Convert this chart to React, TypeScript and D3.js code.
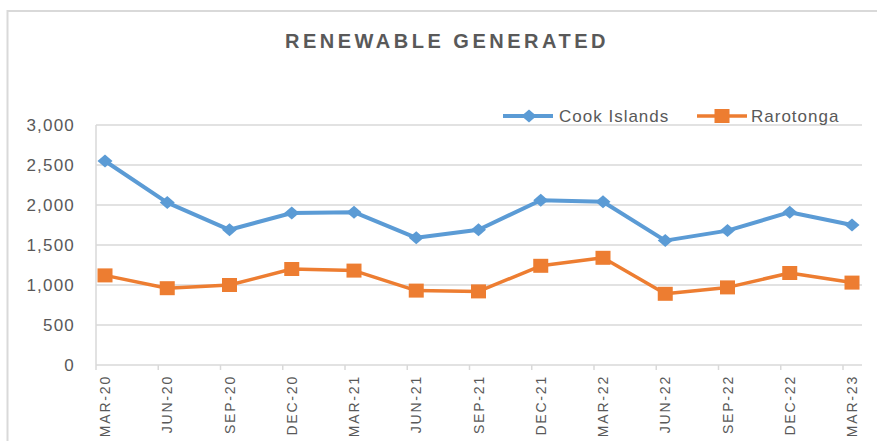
import React, { useEffect, useRef } from 'react';
import * as d3 from 'd3';

const categories = [
  'MAR-20', 'JUN-20', 'SEP-20', 'DEC-20', 'MAR-21', 'JUN-21', 'SEP-21',
  'DEC-21', 'MAR-22', 'JUN-22', 'SEP-22', 'DEC-22', 'MAR-23',
];
const cookIslands = [2550, 2030, 1690, 1900, 1910, 1590, 1690, 2060, 2040, 1555, 1680, 1910, 1750];
const rarotonga = [1120, 960, 1000, 1200, 1180, 930, 920, 1240, 1340, 890, 970, 1150, 1030];
const yTicks = [0, 500, 1000, 1500, 2000, 2500, 3000];

const App = () => {
  const chartRef = useRef<SVGSVGElement>(null);

  useEffect(() => {
    const width = 877;
    const height = 441;
    const left = 96;
    const right = 862;
    const top = 125;
    const bottom = 365;
    const tickShift = 9; // category ticks sit a little left of the points
    const textColor = '#595959';
    const gridColor = '#D9D9D9';
    const font = '"Liberation Sans", Arial, sans-serif';

    const svg = d3.select(chartRef.current);
    svg.selectAll('*').remove();
    svg.attr('width', width).attr('height', height);

    const x = d3.scalePoint<string>().domain(categories).range([105, 852]);
    const y = d3.scaleLinear().domain([0, 3000]).range([bottom, top]);

    // frame
    svg
      .append('path')
      .attr('d', `M7.5,${height} V11 H${width}`)
      .attr('fill', 'none')
      .attr('stroke', gridColor)
      .attr('stroke-width', 2);

    // title
    svg
      .append('text')
      .attr('x', 447)
      .attr('y', 48)
      .attr('text-anchor', 'middle')
      .attr('font-family', font)
      .attr('font-size', 20)
      .attr('font-weight', 'bold')
      .attr('letter-spacing', 3.5)
      .attr('fill', textColor)
      .text('RENEWABLE GENERATED');

    // grid lines
    svg
      .append('g')
      .selectAll('line')
      .data(yTicks)
      .enter()
      .append('line')
      .attr('x1', left)
      .attr('x2', right)
      .attr('y1', (d) => y(d))
      .attr('y2', (d) => y(d))
      .attr('stroke', gridColor)
      .attr('stroke-width', 1.5);

    // left axis line
    svg
      .append('line')
      .attr('x1', left)
      .attr('x2', left)
      .attr('y1', top)
      .attr('y2', bottom)
      .attr('stroke', gridColor)
      .attr('stroke-width', 1.5);

    // y labels
    svg
      .append('g')
      .selectAll('text')
      .data(yTicks)
      .enter()
      .append('text')
      .attr('x', 75)
      .attr('y', (d) => y(d))
      .attr('dy', '0.36em')
      .attr('text-anchor', 'end')
      .attr('font-family', font)
      .attr('font-size', 17)
      .attr('letter-spacing', 1.2)
      .attr('fill', textColor)
      .text((d) => d3.format(',')(d));

    // x ticks
    svg
      .append('g')
      .selectAll('line')
      .data(categories)
      .enter()
      .append('line')
      .attr('x1', (d) => (x(d) as number) - tickShift)
      .attr('x2', (d) => (x(d) as number) - tickShift)
      .attr('y1', bottom)
      .attr('y2', bottom + 5)
      .attr('stroke', gridColor)
      .attr('stroke-width', 1.5);

    // x labels
    svg
      .append('g')
      .selectAll('text')
      .data(categories)
      .enter()
      .append('text')
      .attr('transform', (d) => `translate(${(x(d) as number) + 5},375) rotate(-90)`)
      .attr('text-anchor', 'end')
      .attr('font-family', font)
      .attr('font-size', 14)
      .attr('letter-spacing', 1.8)
      .attr('fill', textColor)
      .text((d) => d);

    const line = d3
      .line<number>()
      .x((_, i) => x(categories[i]) as number)
      .y((d) => y(d));

    // Cook Islands
    svg
      .append('path')
      .attr('d', line(cookIslands))
      .attr('fill', 'none')
      .attr('stroke', '#5B9BD5')
      .attr('stroke-width', 4)
      .attr('stroke-linejoin', 'round');

    const diamond = (cx: number, cy: number) =>
      `M${cx},${cy - 6.5} L${cx + 7.5},${cy} L${cx},${cy + 6.5} L${cx - 7.5},${cy} Z`;

    svg
      .append('g')
      .selectAll('path')
      .data(cookIslands)
      .enter()
      .append('path')
      .attr('d', (d, i) => diamond(x(categories[i]) as number, y(d)))
      .attr('fill', '#5B9BD5');

    // Rarotonga
    svg
      .append('path')
      .attr('d', line(rarotonga))
      .attr('fill', 'none')
      .attr('stroke', '#ED7D31')
      .attr('stroke-width', 3.5)
      .attr('stroke-linejoin', 'round');

    svg
      .append('g')
      .selectAll('rect')
      .data(rarotonga)
      .enter()
      .append('rect')
      .attr('x', (_, i) => (x(categories[i]) as number) - 7.5)
      .attr('y', (d) => y(d) - 7)
      .attr('width', 15)
      .attr('height', 14)
      .attr('fill', '#ED7D31');

    // legend
    const legend = svg.append('g');
    const ly = 116;
    legend
      .append('line')
      .attr('x1', 503)
      .attr('x2', 553)
      .attr('y1', ly)
      .attr('y2', ly)
      .attr('stroke', '#5B9BD5')
      .attr('stroke-width', 4);
    legend.append('path').attr('d', diamond(529, ly)).attr('fill', '#5B9BD5');
    legend
      .append('text')
      .attr('x', 559)
      .attr('y', ly)
      .attr('dy', '0.36em')
      .attr('font-family', font)
      .attr('font-size', 17)
      .attr('letter-spacing', 1)
      .attr('fill', textColor)
      .text('Cook Islands');

    legend
      .append('line')
      .attr('x1', 697)
      .attr('x2', 747)
      .attr('y1', ly)
      .attr('y2', ly)
      .attr('stroke', '#ED7D31')
      .attr('stroke-width', 3.5);
    legend
      .append('rect')
      .attr('x', 714.5)
      .attr('y', ly - 7)
      .attr('width', 15)
      .attr('height', 14)
      .attr('fill', '#ED7D31');
    legend
      .append('text')
      .attr('x', 751)
      .attr('y', ly)
      .attr('dy', '0.36em')
      .attr('font-family', font)
      .attr('font-size', 17)
      .attr('letter-spacing', 1)
      .attr('fill', textColor)
      .text('Rarotonga');
  }, []);

  return (
    <svg
      ref={chartRef}
      style={{ position: 'absolute', left: 0, top: 0, background: '#fff' }}
    ></svg>
  );
};

export default App;
